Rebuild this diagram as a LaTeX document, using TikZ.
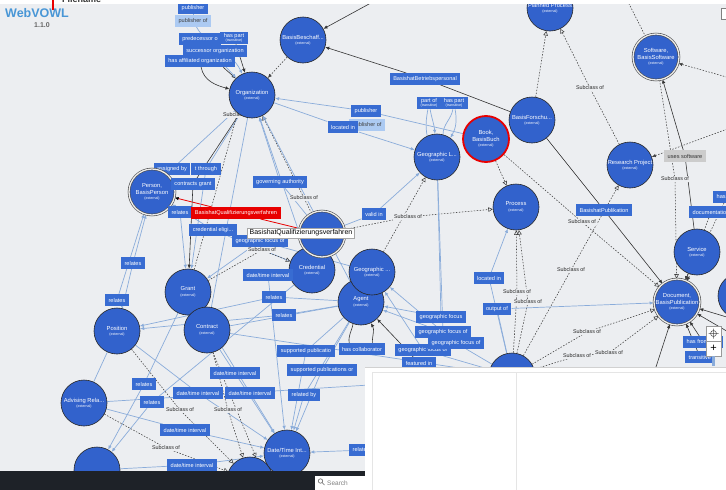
\documentclass[tikz,border=0pt]{standalone}
\usepackage{fontspec}
\setmainfont{Liberation Sans}
\usetikzlibrary{arrows.meta}

\definecolor{bgray}{RGB}{236,238,241}
\definecolor{nodeblue}{RGB}{50,98,204}
\definecolor{propblue}{RGB}{56,108,210}
\definecolor{lightprop}{RGB}{172,202,242}
\definecolor{linkblue}{RGB}{138,172,218}
\definecolor{vowlblue}{RGB}{72,150,214}
\definecolor{vowlred}{RGB}{232,0,0}
\definecolor{barblack}{RGB}{30,34,40}

\pgfdeclarelayer{edges}
\pgfsetlayers{edges,main}

\newcommand{\ext}{\\[-1pt]{\fontsize{3.6}{4}\selectfont(external)}}
\newcommand{\trans}{\\[-1.5pt]{\fontsize{3.6}{4}\selectfont(transitive)}}

\begin{document}
\begin{tikzpicture}[x=1pt, y=-1pt,
    vcls/.style={circle, draw=black!85, line width=0.6pt, fill=nodeblue, minimum size=46pt, inner sep=0pt, text=white, align=center, font=\fontsize{5.8}{6.4}\selectfont},
    veq/.style={vcls, draw=black!70, double=white!85!gray, double distance=1.3pt},
    vsel/.style={vcls, draw=vowlred, line width=1.8pt},
    vprop/.style={fill=propblue, text=white, font=\fontsize{5.6}{6}\selectfont, inner xsep=3.5pt, inner ysep=1.5pt, minimum height=11.5pt, align=center},
    vlprop/.style={vprop, fill=lightprop, text=black!75},
    vred/.style={vprop, fill=vowlred},
    vgray/.style={vprop, fill=black!20, text=black!80},
    vsub/.style={font=\fontsize{5.4}{6}\selectfont, text=black!85, fill=bgray, inner sep=0.8pt},
    vline/.style={draw=linkblue, line width=0.7pt},
    vlink/.style={vline, -{Latex[length=4pt,width=3.5pt]}},
    vdarkline/.style={draw=black!80, line width=0.6pt},
    vdark/.style={vdarkline, -{Latex[length=4pt,width=3.5pt]}},
    visaline/.style={draw=black!75, line width=0.55pt, dash pattern=on 1.5pt off 1.5pt},
    visa/.style={visaline, -{Triangle[open,length=4.5pt,width=4.5pt]}},
    vdash/.style={visaline, -{Latex[length=4pt,width=3.5pt]}},
    vredline/.style={draw=vowlred, line width=0.8pt, -{Latex[length=4pt,width=3.5pt,color=black]}}
  ]
  \useasboundingbox (0,0) rectangle (726,490);

  % labels lying under the classes
  \node[vprop] (assigned) at (172,169) {assigned by};
  \node[vsub] (subP) at (237,115) {Subclass of};
  \node[vlprop] (pubofB) at (367,125) {publisher of};

  % Classes
  \node[vcls] (planned) at (550,8) {Planned Process\ext};
  \node[vcls] (beschaff) at (303,40) {BasisBeschaff...\ext};
  \node[vcls] (org) at (252,95) {Organization\ext};
  \node[veq] (software) at (656,57) {Software,\\BasisSoftware\ext};
  \node[vcls] (forschu) at (532,120) {BasisForschu...\ext};
  \node[vcls] (geol) at (437,157) {Geographic L...\ext};
  \node[vcls] (research) at (630,165) {Research Project\ext};
  \node[vsel] (book) at (486,139) {Book,\\BasisBuch\ext};
  \node[vcls] (process) at (516,207) {Process\ext};
  \node[veq] (person) at (152,192) {Person,\\BasisPerson\ext};
  \node[vcls] (credential) at (312,270) {Credential\ext};
  \node[veq] (qual) at (322,234) {\mbox{}\ext};
  \node[vcls] (agent) at (361,302) {Agent\ext};
  \node[vcls] (geo) at (372,272) {Geographic ...\ext};
  \node[vcls] (grant) at (188,292) {Grant\ext};
  \node[vcls] (contract) at (207,330) {Contract\ext};
  \node[vcls] (position) at (117,331) {Position\ext};
  \node[vcls] (advising) at (84,403) {Advising Rela...\ext};
  \node[vcls] (lowleft) at (97,470) {};
  \node[vcls] (lowmid) at (250,480) {};
  \node[vcls] (datetime) at (287,453) {Date/Time Int...\ext};
  \node[vcls] (service) at (697,252) {Service\ext};
  \node[veq] (document) at (677,302) {Document,\\BasisPublication\ext};
  \node[vcls] (rightcut) at (741,296) {};
  \node[vcls] (lowright) at (512,376) {};

  % Properties round Organization
  \node[vprop] (pubA) at (193,8) {publisher};
  \node[vlprop] (pubofA) at (193,21) {publisher of};
  \node[vprop] (pred) at (200,39) {predecessor o};
  \node[vprop] (haspartA) at (234,38) {has part\trans};
  \node[vprop] (succ) at (215,51) {successor organization};
  \node[vprop] (haff) at (200,61) {has affiliated organization};

  % Properties, upper middle and right
  \node[vprop] (betrieb) at (425,79) {BasishatBetriebspersonal};
  \node[vprop] (partof) at (429,103) {part of\trans};
  \node[vprop] (haspartB) at (454,103) {has part\trans};
  \node[vprop] (pubB) at (366,111) {publisher};
  \node[vprop] (locin) at (343,127) {located in};
  \node[vsub] (subA) at (590,88) {Subclass of};
  \node[vgray] (usesw) at (685,156) {uses software};
  \node[vsub] (subB) at (675,179) {Subclass of};
  \node[vprop, anchor=west] (hasR) at (713,197) {has part};
  \node[vprop, anchor=west] (docu) at (689,212) {documentation};
  \node[vprop] (publik) at (604,210) {BasishatPublikation};
  \node[vsub] (subC) at (582,222) {Subclass of};
  \node[vsub] (subD) at (571,270) {Subclass of};

  % Properties, middle
  \node[vprop] (through) at (206,169) {t through};
  \node[vprop] (cgrant) at (193,184) {contracts grant};
  \node[vprop] (relA) at (180,212) {relates};
  \node[vprop] (gov) at (280,182) {governing authority};
  \node[vsub] (subE) at (304,198) {Subclass of};
  \node[vprop] (gfocA) at (260,241) {geographic focus of};
  \node[vsub] (subF) at (262,250) {Subclass of};
  \node[vprop] (celig) at (213,230) {credential eligi...};
  \node[vred] (hatqual) at (236,213) {BasishatQualifizierungsverfahren};
  \node[vprop] (validin) at (374,214) {valid in};
  \node[vsub] (subG) at (408,217) {Subclass of};
  \node[vprop] (relB) at (133,263) {relates};
  \node[vprop] (relC) at (117,300) {relates};
  \node[vprop] (dtA) at (268,275) {date/time interval};
  \node[vprop] (relD) at (274,297) {relates};
  \node[vprop] (relE) at (284,315) {relates};
  \node[vprop] (locinB) at (489,278) {located in};
  \node[vsub] (subH) at (517,292) {Subclass of};
  \node[vsub] (subI) at (528,302) {Subclass of};
  \node[vprop] (outof) at (497,309) {output of};
  \node[vprop] (gfocB) at (441,317) {geographic focus};

  % Properties, lower part
  \node[vprop] (relF) at (144,384) {relates};
  \node[vprop] (relG) at (152,402) {relates};
  \node[vprop] (dtB) at (235,373) {date/time interval};
  \node[vprop] (dtC) at (198,393) {date/time interval};
  \node[vprop] (dtD) at (250,393) {date/time interval};
  \node[vsub] (subJ) at (180,410) {Subclass of};
  \node[vsub] (subK) at (228,410) {Subclass of};
  \node[vprop] (dtE) at (185,430) {date/time interval};
  \node[vsub] (subL) at (166,448) {Subclass of};
  \node[vprop] (dtF) at (192,465) {date/time interval};
  \node[vprop] (suppA) at (306,351) {supported publicatio};
  \node[vprop] (collab) at (362,349) {has collaborator};
  \node[vprop] (suppB) at (322,370) {supported publications or};
  \node[vprop] (relby) at (304,395) {related by};
  \node[vprop] (relH) at (365,450) {related by};
  \node[vprop] (gfocC) at (443,332) {geographic focus of};
  \node[vprop] (gfocD) at (423,350) {geographic focus or};
  \node[vprop] (gfocE) at (456,343) {geographic focus of};
  \node[vprop] (featured) at (419,363) {featured in};
  \node[vsub] (subM) at (587,332) {Subclass of};
  \node[vsub] (subN) at (577,356) {Subclass of};
  \node[vsub] (subO) at (609,353) {Subclass of};
  \node[vprop, anchor=west] (hasfrom) at (683,342) {has from part};
  \node[vprop, anchor=west] (transi) at (685,357) {transitive};

  % free ends
  \coordinate (topA) at (380,-2);
  \coordinate (topB) at (626,-2);
  \coordinate (rightA) at (730,78);
  \coordinate (rightB) at (730,128);
  \coordinate (rightC) at (730,318);
  \coordinate (rightD) at (730,333);
  \coordinate (botC) at (655,370);

  \begin{pgfonlayer}{edges}
    \fill[bgray] (0,0) rectangle (726,490);
    % Organization
    \draw[vdark] (haff) to[out=-80,in=165] (org);
    \draw[vdark] (succ) to[out=-70,in=135] (org);
    \draw[vdark] (haspartA) -- (org);
    \draw[vlink] (pred) -- (org);
    \draw[vlink] (pubofA) to[out=-60,in=115] (org);
    \draw[vline] (pubA) -- (pubofA);
    \draw[vdark] (topA) -- (beschaff);
    \draw[vdash] (beschaff) -- (org);
    \draw[vdark] (forschu) -- (betrieb) -- (beschaff);
    \draw[vlink] (book) -- (pubB) -- (org);
    \draw[vlink] (org) -- (locin) -- (geol);
    \draw[vline] (geol.115) to[out=100,in=-100] (partof);
    \draw[vlink] (partof) to[out=-80,in=95] (geol.95);
    \draw[vline] (geol.75) to[out=90,in=-100] (haspartB);
    \draw[vlink] (haspartB) to[out=-80,in=60] (geol.55);
    % upper right
    \draw[visa] (forschu) -- (planned);
    \draw[visa] (research) -- (subA) -- (planned);
    \draw[visaline] (topB) -- (software);
    \draw[vdash] (rightA) -- (software);
    \draw[vdash] (rightB) -- (research);
    \draw[vdark] (service) -- (usesw) -- (software);
    \draw[visa] (software) -- (subB) -- (document);
    \draw[vdark] (service) -- (document);
    \draw[vdark] (forschu) -- (publik) -- (document);
    \draw[visa] (book) -- (subC) -- (document);
    \draw[visa] (book) -- (process);
    \draw[vdash] (hasR) -- (document);
    \draw[vdash] (docu) -- (document);
    \draw[vdark] (rightC) -- (document);
    \draw[vdark] (rightD) -- (document);
    \draw[vdark] (hasfrom) -- (document);
    \draw[vdark] (transi) -- (document);
    \draw[vdark] (botC) -- (document);
    % middle
    \draw[visa] (qual) -- (subG) -- (process);
    \draw[visa] (geo) -- (geol);
    \draw[visa] (lowright) -- (subD) -- (research);
    \draw[visa] (lowright) -- (subH) -- (process);
    \draw[visa] (lowright) -- (subI) -- (process);
    \draw[visa] (lowright) -- (subM) -- (document);
    \draw[visa] (lowright) -- (subN) -- (subO) -- (document);
    \draw[vlink] (lowright) -- (outof) -- (document);
    \draw[vlink] (lowright) -- (locinB) -- (process);
    \draw[vlink] (qual) -- (validin) -- (geol);
    \draw[vlink] (qual) -- (gov) -- (org);
    \draw[visa] (qual) -- (subE) -- (org);
    \draw[vredline] (qual) -- (hatqual) -- (person);
    \draw[vlink] (credential) -- (celig) -- (person);
    \draw[vlink] (geo) -- (gfocA) -- (grant);
    \draw[visa] (grant) -- (subF) -- (credential);
    \draw[vdark] (org) -- (cgrant) -- (grant);
    \draw[vlink] (org) -- (assigned) -- (person);
    \draw[vlink] (org) -- (through) -- (grant);
    \draw[vlink] (person) -- (relA) -- (grant);
    \draw[visa] (grant) -- (subP) -- (org);
    \draw[vlink] (credential) -- (org);
    \draw[vlink] (agent) -- (org);
    \draw[vline] (contract) -- (org);
    % left and lower part
    \draw[vlink] (position) -- (relB) -- (person);
    \draw[vlink] (position.75) -- (relC) -- (person.250);
    \draw[vline] (advising) -- (position);
    \draw[vlink] (agent) -- (relD) -- (position);
    \draw[vlink] (agent) -- (relE) -- (position);
    \draw[vlink] (grant) -- (relF) -- (lowleft);
    \draw[vlink] (credential) -- (relG) -- (lowleft);
    \draw[vlink] (contract) -- (dtB) -- (datetime);
    \draw[vlink] (position) -- (dtC) -- (datetime);
    \draw[vlink] (grant) -- (dtD) -- (datetime);
    \draw[vlink] (advising) -- (dtE) -- (datetime);
    \draw[vlink] (lowleft) -- (dtF) -- (datetime);
    \draw[vlink] (credential) -- (dtA) -- (datetime);
    \draw[visa] (position) -- (subJ) -- (lowmid);
    \draw[visa] (contract) -- (subK) -- (lowmid);
    \draw[visa] (contract.-75) -- (lowmid.75);
    \draw[visa] (advising) -- (subL) -- (lowmid);
    \draw[vlink] (agent) -- (suppA) -- (datetime);
    \draw[vlink] (agent) -- (suppB) -- (datetime);
    \draw[vlink] (agent) -- (relby) -- (datetime);
    \draw[vdarkline] (agent.250) to[out=-100,in=100] (collab.155);
    \draw[vdark] (collab.30) to[out=90,in=-60] (agent.295);
    \draw[vdark] (featured) -- (agent);
    \draw[vlink] (geol) -- (gfocB) -- (agent);
    \draw[vlink] (geol) -- (gfocC) -- (agent);
    \draw[vlink] (lowright) -- (gfocE) -- (geo);
    \draw[vlink] (lowright) -- (gfocD) -- (geo);
    \draw[vlink] (lowright) -- (relH) -- (datetime);
    \draw[vline] (advising) -- (lowright);
    \draw[vline] (contract) -- (lowright);
    \draw[vline] (contract) -- (agent);
  \end{pgfonlayer}

  % frame of the page
  \fill[white] (0,0) rectangle (726,4);
  \node[anchor=west, font=\bfseries\fontsize{9}{9}\selectfont, text=black!80, inner sep=0pt] (fname) at (62,-1) {Filename};
  \fill[vowlred] (52,0) rectangle (54,10);
  \node[anchor=north west, font=\bfseries\fontsize{12.5}{13}\selectfont, text=vowlblue, inner sep=0pt] (title) at (5,8) {WebVOWL};
  \node[font=\bfseries\fontsize{7}{7}\selectfont, text=black!60, inner sep=0pt] (version) at (42,25) {1.1.0};
  \node[draw=black!50, fill=white, minimum width=8pt, minimum height=11pt, inner sep=0pt] (pagebox) at (725,14) {};

  % tooltip
  \node[draw=black!35, fill=white, font=\fontsize{7}{8}\selectfont, inner sep=2pt] (tip) at (301,233) {BasishatQualifizierungsverfahren};

  % bottom bar and search
  \fill[barblack] (0,471) rectangle (365,490);
  \node[fill=white, minimum width=50pt, minimum height=14pt, anchor=south west, inner sep=0pt] (search) at (315,490) {};
  \draw[black!60, line width=0.6pt] (320.5,481) circle (2.2pt) (322,482.5) -- (324.5,485);
  \node[anchor=west, font=\fontsize{6.5}{7}\selectfont, text=black!50, inner sep=0pt] (searchtext) at (327,483.5) {Search};

  % side panel
  \fill[white] (365,367) rectangle (726,490);
  \draw[black!18, line width=0.8pt] (365,367) -- (726,367);
  \draw[black!10] (372,372) -- (726,372) (372,372) -- (372,490);
  \draw[black!10] (516,372) -- (516,490);

  % zoom controls
  \node[draw=black!40, fill=white, minimum size=15pt, inner sep=0pt] (zoomfit) at (713.5,333.5) {};
  \draw[black!70, line width=0.5pt] (zoomfit.center) circle (3pt) (708.5,333.5) -- (718.5,333.5) (713.5,328.5) -- (713.5,338.5);
  \node[draw=black!40, fill=white, minimum size=15pt, inner sep=0pt, font=\fontsize{11}{11}\selectfont] (zoomin) at (713.5,348.5) {+};
  \fill[linkblue] (712,356) rectangle (715,366);
\end{tikzpicture}
\end{document}
